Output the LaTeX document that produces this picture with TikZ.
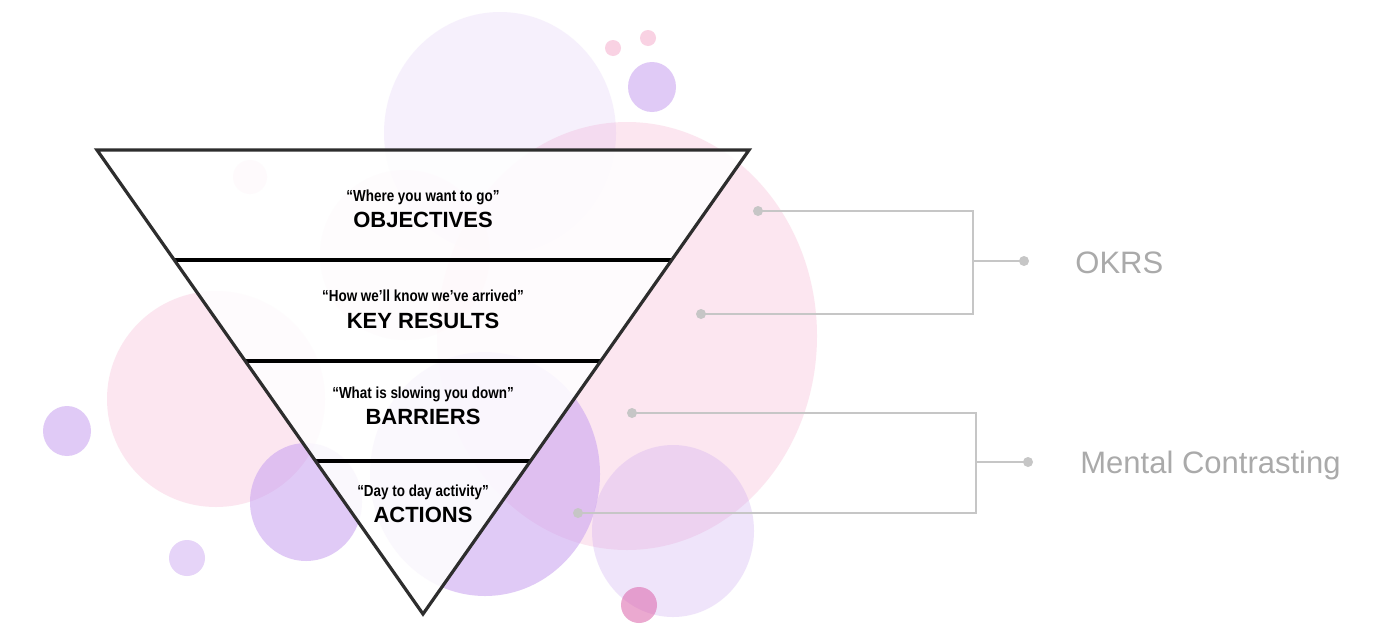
\documentclass[tikz,border=0pt]{standalone}
\usepackage{fontspec}
\setmainfont{Liberation Sans}
\newfontfamily\quotefont[FakeStretch=0.84]{Liberation Sans}
\usetikzlibrary{calc}
\definecolor{bubpink}{RGB}{247,186,213}
\definecolor{bubpurple}{RGB}{200,160,240}
\definecolor{bubrose}{RGB}{220,100,170}
\definecolor{linkgray}{RGB}{198,198,198}
\definecolor{labelgray}{RGB}{170,170,170}
\definecolor{edgegray}{RGB}{45,45,45}
\begin{document}
\begin{tikzpicture}[x=0.5pt,y=-0.5pt]
\tikzstyle{edge}=[line width=1.6pt,draw=edgegray,line join=miter]
\tikzstyle{divider}=[line width=2pt,black]
\tikzstyle{link}=[line width=0.7pt,linkgray]
\tikzstyle{quote}=[anchor=base,inner sep=0pt,font=\quotefont\bfseries\fontsize{8}{9}\selectfont]
\tikzstyle{title}=[anchor=base,inner sep=0pt,font=\bfseries\fontsize{11}{13}\selectfont]
\tikzstyle{group}=[anchor=base west,inner sep=0pt,text=labelgray,font=\fontsize{15.5}{18}\selectfont]
\useasboundingbox (0,0) rectangle (1400,643);
\fill[white] (0,0) rectangle (1400,643);
% bubbles
\fill[bubpink,fill opacity=0.35] (627,336) ellipse (190 and 214);
\fill[bubpurple,fill opacity=0.15] (500,133) ellipse (116 and 121);
\fill[bubpink,fill opacity=0.35] (216,399) ellipse (109 and 108);
\fill[bubpink,fill opacity=0.3] (405,255) circle (85);
\fill[bubpink,fill opacity=0.5] (250,177) circle (17);
\fill[bubpurple,fill opacity=0.55] (485,474) ellipse (115 and 122);
\fill[bubpurple,fill opacity=0.55] (306,502) ellipse (56 and 59);
\fill[bubpurple,fill opacity=0.28] (673,531) ellipse (81 and 86);
\fill[bubpurple,fill opacity=0.55] (67,431) ellipse (24 and 25);
\fill[bubpurple,fill opacity=0.55] (652,87) ellipse (24 and 25);
\fill[bubpurple,fill opacity=0.45] (187,558) circle (18);
\fill[bubpink,fill opacity=0.65] (613,48) circle (8);
\fill[bubpink,fill opacity=0.65] (648,38) circle (8);
\fill[bubrose,fill opacity=0.55] (639,605) circle (18);
% pyramid
\coordinate (TL) at (97,150);
\coordinate (TR) at (749,150);
\coordinate (V) at (423,614);
\fill[white,fill opacity=0.87] (TL) -- (TR) -- (V) -- cycle;
\foreach \f [count=\i] in {0.237,0.455,0.670} {
    \coordinate (L\i) at ($(TL)!\f!(V)$);
    \coordinate (R\i) at ($(TR)!\f!(V)$);
    \draw[divider] (L\i) -- (R\i);
}
\draw[edge] (TL) -- (TR) -- (V) -- cycle;
\node[quote] (q1) at (423,201) {“Where you want to go”};
\node[title] (t1) at (423,227) {OBJECTIVES};
\node[quote] (q2) at (423,301) {“How we’ll know we’ve arrived”};
\node[title] (t2) at (423,328) {KEY RESULTS};
\node[quote] (q3) at (423,398) {“What is slowing you down”};
\node[title] (t3) at (423,424) {BARRIERS};
\node[quote] (q4) at (423,496) {“Day to day activity”};
\node[title] (t4) at (423,522) {ACTIONS};
% brackets
\coordinate (o1) at (758,211);
\coordinate (o2) at (701,314);
\coordinate (okbar) at (973,261);
\coordinate (ok) at (1024,261);
\coordinate (m1) at (632,413);
\coordinate (m2) at (578,513);
\coordinate (mcbar) at (976,462);
\coordinate (mc) at (1028,462);
\draw[link] (o1) -| (okbar) |- (o2);
\draw[link] (okbar) -- (ok);
\draw[link] (m1) -| (mcbar) |- (m2);
\draw[link] (mcbar) -- (mc);
\foreach \p in {o1,o2,ok,m1,m2,mc}
	\fill[linkgray] (\p) circle (5);
\node[group] (okrs) at (1075,273) {OKRS};
\node[group] (mental) at (1080,473) {Mental Contrasting};
\end{tikzpicture}
\end{document}
